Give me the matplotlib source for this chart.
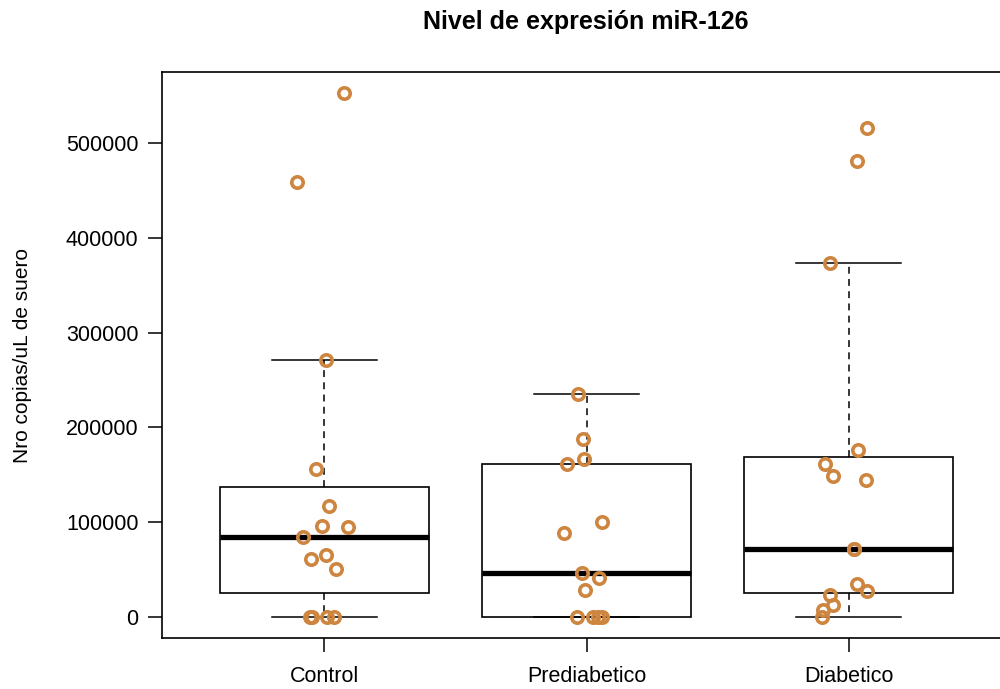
import matplotlib
matplotlib.use("Agg")
import matplotlib.pyplot as plt
import numpy as np

plt.rcParams['font.family'] = ['Liberation Sans', 'DejaVu Sans']

title = "Nivel de expresión miR-126"
ylabel = "Nro copias/uL de suero"
categories = ["Control", "Prediabetico", "Diabetico"]

control_vals = [552800, 458900, 271100, 156100, 117400, 96000, 95300, 84700,
                65400, 60900, 51000, 0, 0, 0, 0]
control_jit = [0.073, -0.103, 0.004, -0.031, 0.017, -0.011, 0.091, -0.083,
               0.007, -0.051, 0.045, -0.057, -0.046, 0.008, 0.038]

prediab_vals = [235200, 187800, 166700, 161400, 100200, 88600, 46400, 41100,
                28500, 0, 0, 0, 0]
prediab_jit = [-0.034, -0.015, -0.011, -0.073, 0.061, -0.084, -0.019, 0.046,
               -0.004, -0.038, 0.023, 0.042, 0.061]

diab_vals = [515800, 481000, 373400, 176200, 161400, 148700, 144500, 71700,
             71900, 34800, 27400, 23200, 12700, 7400, 0]
diab_jit = [0.069, 0.031, -0.069, 0.038, -0.088, -0.061, 0.065, 0.019,
            0.019, 0.031, 0.069, -0.069, -0.061, -0.099, -0.103]

yticks = [0, 100000, 200000, 300000, 400000, 500000]

groups = [control_vals, prediab_vals, diab_vals]
jitters = [control_jit, prediab_jit, diab_jit]


def fivenum_stats(vals, coef=1.5):
    x = np.sort(np.asarray(vals, dtype=float))
    n = len(x)
    n4 = np.floor((n + 3) / 2) / 2
    d = np.array([1, n4, (n + 1) / 2, n + 1 - n4, n]) - 1
    fn = 0.5 * (x[np.floor(d).astype(int)] + x[np.ceil(d).astype(int)])
    iqr = fn[3] - fn[1]
    lo = x[x >= fn[1] - coef * iqr].min()
    hi = x[x <= fn[3] + coef * iqr].max()
    return dict(med=fn[2], q1=fn[1], q3=fn[3], whislo=lo, whishi=hi, fliers=[])


fig = plt.figure(figsize=(10, 6.89), dpi=100)
ax = fig.add_axes([0.162, 0.074, 0.849, 0.8215])

stats = [fivenum_stats(g) for g in groups]
positions = [1, 2, 3]
ax.bxp(stats, positions=positions, widths=0.8, showfliers=False,
       capwidths=0.4, patch_artist=True,
       boxprops=dict(facecolor='white', edgecolor='black', linewidth=1.2),
       medianprops=dict(color='black', linewidth=3.8, solid_capstyle='butt'),
       whiskerprops=dict(color='black', linewidth=1.1, linestyle=(0, (4.5, 3.5))),
       capprops=dict(color='black', linewidth=1.1), manage_ticks=False)

for pos, vals, jit in zip(positions, groups, jitters):
    xs = pos + np.asarray(jit)
    ax.plot(xs, vals, linestyle='none', marker='o', markersize=8.2,
            markerfacecolor='none', markeredgecolor='#CD853F',
            markeredgewidth=2.6, zorder=5)

ymax = max(max(g) for g in groups)
ax.set_xlim(0.38, 3.62)
ax.set_ylim(-0.04 * ymax, 1.04 * ymax)

ax.set_xticks(positions)
ax.set_xticklabels(categories)
ax.set_yticks(yticks)
ax.set_yticklabels([str(t) for t in yticks])
ax.tick_params(axis='both', labelsize=15.5, length=10, width=1.1, direction='out')
ax.tick_params(axis='x', pad=10)
ax.tick_params(axis='y', pad=7)
for s in ax.spines.values():
    s.set_linewidth(1.2)

ax.set_ylabel(ylabel, fontsize=15, labelpad=24)
fig.text(0.586, 0.968, title, ha='center', va='center', fontsize=18,
         fontweight='bold')

fig.savefig("out.png", dpi=100)
